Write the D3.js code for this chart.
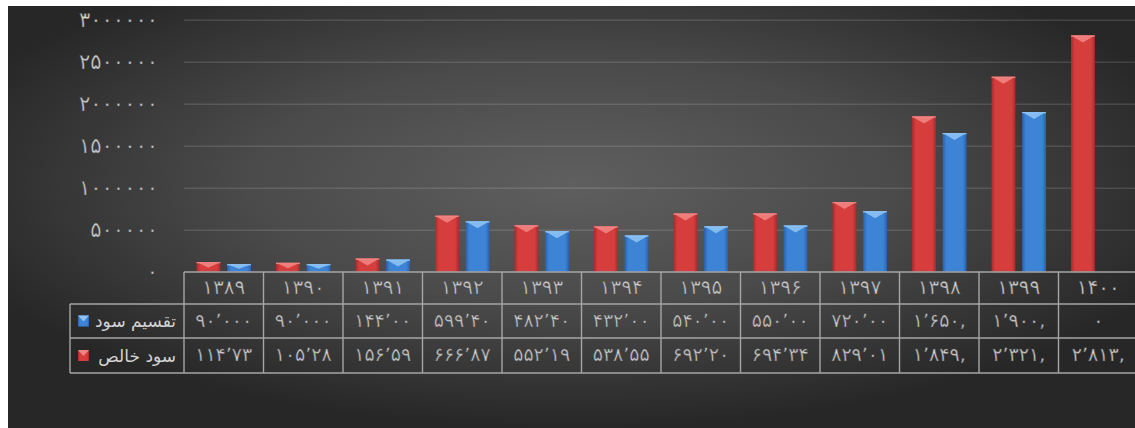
<!DOCTYPE html>
<html>
<head>
<meta charset="utf-8">
<script src="https://cdn.jsdelivr.net/npm/d3@7"></script>
<style>
  body { margin: 0; background: #fff; }
  svg { display: block; }
  text { font-family: "DejaVu Sans", sans-serif; fill: #d4d4d4; }
  .thin { stroke: rgba(70,70,70,0.75); stroke-width: 0.7px; }
</style>
</head>
<body>
<script>
// Net profit vs. dividend, years 1389 - 1400

// data
let years = ["۱۳۸۹", "۱۳۹۰", "۱۳۹۱", "۱۳۹۲", "۱۳۹۳", "۱۳۹۴", "۱۳۹۵", "۱۳۹۶", "۱۳۹۷", "۱۳۹۸", "۱۳۹۹", "۱۴۰۰"];
let netProfit = [114730, 105280, 156590, 666870, 552190, 538550, 692200, 694340, 829010, 1849000, 2321000, 2813000];
let dividend = [90000, 90000, 144000, 599400, 482400, 432000, 540000, 550000, 720000, 1650000, 1900000, 0];

// what the table cells show (cut off as in the original)
let netText = ["۱۱۴٬۷۳", "۱۰۵٬۲۸", "۱۵۶٬۵۹", "۶۶۶٬۸۷", "۵۵۲٬۱۹", "۵۳۸٬۵۵", "۶۹۲٬۲۰", "۶۹۴٬۳۴", "۸۲۹٬۰۱", "۱٬۸۴۹,", "۲٬۳۲۱,", "۲٬۸۱۳,"];
let divText = ["۹۰٬۰۰۰", "۹۰٬۰۰۰", "۱۴۴٬۰۰", "۵۹۹٬۴۰", "۴۸۲٬۴۰", "۴۳۲٬۰۰", "۵۴۰٬۰۰", "۵۵۰٬۰۰", "۷۲۰٬۰۰", "۱٬۶۵۰,", "۱٬۹۰۰,", "۰"];

let yTicks = [0, 500000, 1000000, 1500000, 2000000, 2500000, 3000000];

let seriesNames = ["سود خالص", "تقسیم سود"];

//////////////////////////////////////////////////////////////////////////////
// sizes

let width = 1135;
let height = 428;
let plotLeft = 184;
let colW = 79.5;
let y0 = 271.7, yTop = 19.7;
let rowLines = [272, 304, 338, 373];
let legendLeft = 70;

let faDigits = s => String(s).replace(/\d/g, d => "۰۱۲۳۴۵۶۷۸۹"[d]);

let svg = d3.select("body").append("svg")
  .attr("width", width)
  .attr("height", height);

let defs = svg.append("defs");

let bg = defs.append("radialGradient")
  .attr("id", "bg")
  .attr("cx", "0.5").attr("cy", "0.42").attr("r", "0.58");
bg.append("stop").attr("offset", "0").attr("stop-color", "#5f5f5f");
bg.append("stop").attr("offset", "0.5").attr("stop-color", "#4a4a4a");
bg.append("stop").attr("offset", "1").attr("stop-color", "#272727");

// bar colours: [edge, middle, top face]
let palette = {
  net: ["#a82a2c", "#d63e3e", "#f08482"],
  div: ["#2a60ad", "#3d84d6", "#8cc2f4"]
};
Object.keys(palette).forEach(k => {
  let g = defs.append("linearGradient").attr("id", "bar-" + k)
    .attr("x1", "0").attr("x2", "1").attr("y1", "0").attr("y2", "0");
  g.append("stop").attr("offset", "0").attr("stop-color", palette[k][0]);
  g.append("stop").attr("offset", "0.16").attr("stop-color", palette[k][1]);
  g.append("stop").attr("offset", "0.84").attr("stop-color", palette[k][1]);
  g.append("stop").attr("offset", "1").attr("stop-color", palette[k][0]);
});

svg.append("rect")
  .attr("x", 8).attr("y", 6)
  .attr("width", width - 8).attr("height", height - 6)
  .attr("fill", "url(#bg)");

//////////////////////////////////////////////////////////////////////////////
// scales

let x = d3.scaleBand()
  .domain(years)
  .range([plotLeft, plotLeft + colW * years.length]);

let xInner = d3.scaleBand()
  .domain(["net", "div"])
  .range([12.5, 67])
  .paddingInner(0.22);

let y = d3.scaleLinear()
  .domain([0, 3000000])
  .range([y0, yTop]);

// grid
svg.append("g")
  .attr("transform", `translate(${plotLeft},0)`)
  .call(d3.axisLeft(y).tickValues(yTicks.slice(1)).tickSize(-(width - plotLeft)).tickFormat(""))
  .call(g => g.select(".domain").remove())
  .call(g => g.selectAll("line").attr("stroke", "rgba(255,255,255,0.13)").attr("stroke-width", 1.5));

// y labels
svg.append("g")
  .attr("transform", `translate(${plotLeft},0)`)
  .call(d3.axisLeft(y).tickValues(yTicks).tickSize(0).tickPadding(26).tickFormat(faDigits))
  .call(g => g.select(".domain").remove())
  .call(g => g.selectAll("text")
    .attr("class", "thin")
    .attr("font-size", 21)
    .attr("dy", "0.3em")
    .attr("fill", "#d4d4d4")
    .style("font-family", "DejaVu Sans"));

//////////////////////////////////////////////////////////////////////////////
// bars

let barData = [];
years.forEach((yr, i) => {
  barData.push({ year: yr, key: "net", value: netProfit[i] });
  barData.push({ year: yr, key: "div", value: dividend[i] });
});

let bars = svg.append("g").selectAll("g")
  .data(barData.filter(d => d.value > 0))
  .join("g")
  .attr("transform", d => `translate(${x(d.year) + xInner(d.key)},0)`);

bars.append("rect")
  .attr("x", 0)
  .attr("y", d => y(d.value))
  .attr("width", xInner.bandwidth())
  .attr("height", d => y0 - y(d.value))
  .attr("fill", d => `url(#bar-${d.key})`);

// top bevel
bars.append("path")
  .attr("d", d => {
    let w = xInner.bandwidth();
    let t = y(d.value);
    let h = Math.min(7, (y0 - t) * 0.6);
    return `M0,${t}L${w},${t}L${w / 2},${t + h}Z`;
  })
  .attr("fill", d => palette[d.key][2])
  .attr("opacity", 0.9);

bars.append("rect")
  .attr("x", 0)
  .attr("y", d => y(d.value))
  .attr("width", xInner.bandwidth())
  .attr("height", 1.2)
  .attr("fill", d => palette[d.key][2]);

//////////////////////////////////////////////////////////////////////////////
// data table

let tableRight = plotLeft + colW * years.length;
let lineColor = "#a6a6a6";
let table = svg.append("g")
  .attr("stroke", lineColor)
  .attr("stroke-width", 1.4);

table.append("line")
  .attr("x1", plotLeft).attr("x2", tableRight)
  .attr("y1", rowLines[0]).attr("y2", rowLines[0]);
rowLines.slice(1).forEach(ry => {
  table.append("line")
    .attr("x1", legendLeft).attr("x2", tableRight)
    .attr("y1", ry).attr("y2", ry);
});
table.append("line")
  .attr("x1", legendLeft).attr("x2", legendLeft)
  .attr("y1", rowLines[1]).attr("y2", rowLines[3]);
years.forEach(yr => {
  table.append("line")
    .attr("x1", x(yr)).attr("x2", x(yr))
    .attr("y1", rowLines[0]).attr("y2", rowLines[3]);
});

let rowMid = i => (rowLines[i] + rowLines[i + 1]) / 2;

let cells = svg.append("g")
  .attr("text-anchor", "middle")
  .attr("font-size", 19);

cells.selectAll(".yr")
  .data(years)
  .join("text")
  .attr("class", "yr thin")
  .attr("x", d => x(d) + x.bandwidth() / 2)
  .attr("y", rowMid(0))
  .attr("dy", "0.3em")
  .attr("font-size", 20)
  .text(d => d);

cells.selectAll(".dv")
  .data(divText)
  .join("text")
  .attr("class", "dv thin")
  .attr("x", (d, i) => x(years[i]) + x.bandwidth() / 2)
  .attr("y", rowMid(1))
  .attr("dy", "0.3em")
  .attr("direction", "ltr")
  .text(d => d);

cells.selectAll(".np")
  .data(netText)
  .join("text")
  .attr("class", "np thin")
  .attr("x", (d, i) => x(years[i]) + x.bandwidth() / 2)
  .attr("y", rowMid(2))
  .attr("dy", "0.3em")
  .attr("direction", "ltr")
  .text(d => d);

// legend keys inside the table
let legendRows = [
  { key: "div", name: seriesNames[1], row: 1 },
  { key: "net", name: seriesNames[0], row: 2 }
];
let keys = svg.append("g").selectAll("g")
  .data(legendRows)
  .join("g")
  .attr("transform", d => `translate(78,${rowMid(d.row) - 5.5})`);

keys.append("rect")
  .attr("width", 11).attr("height", 11)
  .attr("fill", d => `url(#bar-${d.key})`);
keys.append("path")
  .attr("d", "M0,0L11,0L5.5,6Z")
  .attr("fill", d => palette[d.key][2]);

keys.append("text")
  .attr("x", 98)
  .attr("y", 5.5)
  .attr("dy", "0.36em")
  .attr("text-anchor", "end")
  .attr("font-size", 17)
  .text(d => d.name);
</script>
</body>
</html>
